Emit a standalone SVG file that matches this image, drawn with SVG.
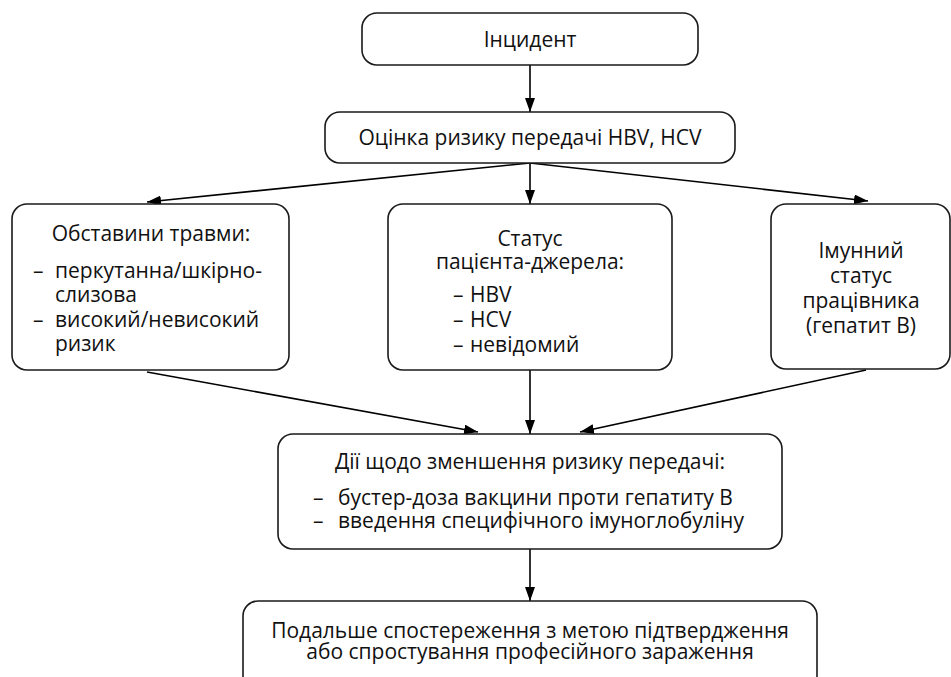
<svg xmlns="http://www.w3.org/2000/svg" width="951" height="677" viewBox="0 0 951 677">
<defs>
<marker id="ah" viewBox="0 0 14 10" refX="14" refY="5" markerWidth="14" markerHeight="10" markerUnits="userSpaceOnUse" orient="auto">
<path d="M0,0 L14,5 L0,10 Z" fill="#000"/>
</marker>
<style>
.box{fill:#fff;stroke:#1a1a1a;stroke-width:1.6}
.t{font-family:"Open Sans","Noto Sans",sans-serif;font-size:21px;fill:#111}
.c{text-anchor:middle}
.ln{stroke:#000;stroke-width:1.6;fill:none;marker-end:url(#ah)}
</style>
</defs>
<rect width="951" height="677" fill="#fff"/>
<g id="connectors">
<line class="ln" x1="530" y1="65" x2="530" y2="112"/>
<line class="ln" x1="530" y1="163" x2="147" y2="202"/>
<line class="ln" x1="530" y1="163" x2="530" y2="204"/>
<line class="ln" x1="530" y1="163" x2="868" y2="201"/>
<line class="ln" x1="147" y1="372" x2="478" y2="432"/>
<line class="ln" x1="530" y1="370" x2="530" y2="434"/>
<line class="ln" x1="866" y1="370" x2="580" y2="432"/>
<line class="ln" x1="530" y1="549" x2="530" y2="601"/>
</g>
<g id="n1">
<rect class="box" x="362" y="13" width="336" height="52" rx="15"/>
<text class="t c" x="530" y="47">Інцидент</text>
</g>
<g id="n2">
<rect class="box" x="325" y="112" width="410" height="51" rx="15"/>
<text class="t c" x="530" y="145">Оцінка ризику передачі HBV, HCV</text>
</g>
<g id="n3">
<rect class="box" x="12" y="204" width="277" height="166" rx="15"/>
<text class="t c" x="151" y="241">Обставини травми:</text>
<text class="t" x="33" y="278">–</text>
<text class="t" x="55" y="278">перкутанна/шкірно-</text>
<text class="t" x="55" y="302">слизова</text>
<text class="t" x="33" y="327">–</text>
<text class="t" x="55" y="327">високий/невисокий</text>
<text class="t" x="55" y="351">ризик</text>
</g>
<g id="n4">
<rect class="box" x="388" y="204" width="284" height="166" rx="15"/>
<text class="t c" x="530" y="246">Статус</text>
<text class="t c" x="530" y="269">пацієнта-джерела:</text>
<text class="t" x="453" y="302">–</text>
<text class="t" x="470" y="302">HBV</text>
<text class="t" x="453" y="327">–</text>
<text class="t" x="470" y="327">HCV</text>
<text class="t" x="453" y="352">–</text>
<text class="t" x="470" y="352">невідомий</text>
</g>
<g id="n5">
<rect class="box" x="771" y="204" width="179" height="165" rx="15"/>
<text class="t c" x="861" y="258">Імунний</text>
<text class="t c" x="861" y="283">статус</text>
<text class="t c" x="861" y="308">працівника</text>
<text class="t c" x="861" y="333">(гепатит В)</text>
</g>
<g id="n6">
<rect class="box" x="278" y="434" width="504" height="115" rx="15"/>
<text class="t c" x="530" y="469">Дії щодо зменшення ризику передачі:</text>
<text class="t" x="313" y="505">–</text>
<text class="t" x="338" y="505">бустер-доза вакцини проти гепатиту В</text>
<text class="t" x="313" y="528">–</text>
<text class="t" x="338" y="528">введення специфічного імуноглобуліну</text>
</g>
<g id="n7">
<rect class="box" x="243" y="601" width="574" height="90" rx="15"/>
<text class="t c" x="530" y="638">Подальше спостереження з метою підтвердження</text>
<text class="t c" x="530" y="659">або спростування професійного зараження</text>
</g>
</svg>
